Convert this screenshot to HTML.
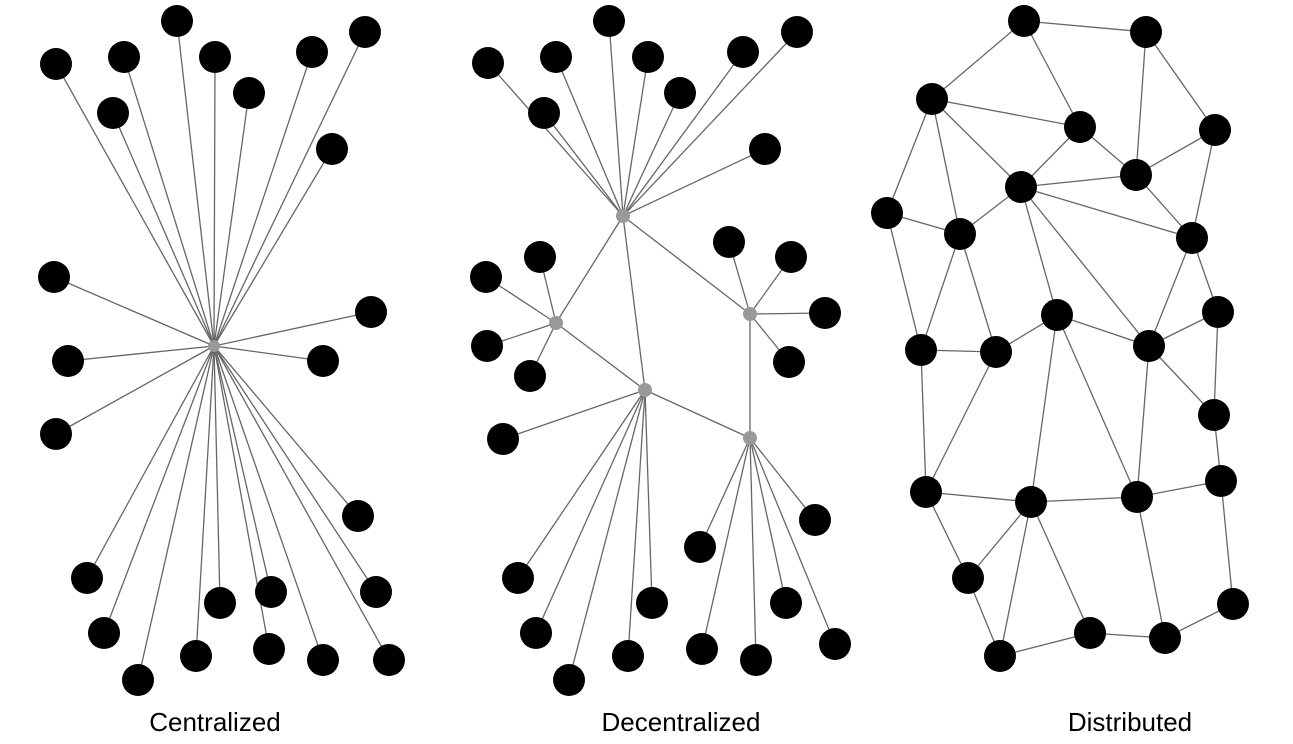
<!DOCTYPE html>
<html><head><meta charset="utf-8"><style>
html,body{margin:0;padding:0;background:#fff;}
svg{display:block;}
text{font-family:"Liberation Sans",Arial,sans-serif;font-size:26px;fill:#000;}
</style></head><body>
<svg width="1293" height="744" viewBox="0 0 1293 744" xmlns="http://www.w3.org/2000/svg">
<g id="g" stroke="#666" stroke-width="1.3"></g>
<g id="n"></g>
<text x="215" y="731" text-anchor="middle">Centralized</text>
<text x="681" y="731" text-anchor="middle">Decentralized</text>
<text x="1130" y="731" text-anchor="middle">Distributed</text>
</svg>
<script>
var NS="http://www.w3.org/2000/svg",G=document.getElementById('g'),N=document.getElementById('n');
function L(a,b){var l=document.createElementNS(NS,'line');l.setAttribute('x1',a[0]);l.setAttribute('y1',a[1]);l.setAttribute('x2',b[0]);l.setAttribute('y2',b[1]);G.appendChild(l);}
function C(p,r,f){var c=document.createElementNS(NS,'circle');c.setAttribute('cx',p[0]);c.setAttribute('cy',p[1]);c.setAttribute('r',r);c.setAttribute('fill',f);N.appendChild(c);}
// centralized
var h=[214,346];
var cn=[[56,64],[124,57],[177,21],[215,57],[312,52],[365,32],[113,113],[249,93],[332,149],[54,277],[371,312],[68,361],[323,361],[56,434],[358,516],[87,578],[376,592],[104,633],[220,603],[271,592],[138,680],[196,656],[269,649],[323,660],[389,660]];
cn.forEach(function(p){L(h,p);C(p,16,'#000');});C(h,6,'#999');
// decentralized
var A=[623,216],B=[556,323],Cc=[750,314],D=[645,390],E=[750,438];
var groups=[[A,[[488,63],[556,57],[609,21],[648,57],[743,52],[797,32],[544,113],[680,93],[765,149]]],
[B,[[540,257],[486,277],[487,346],[530,376]]],
[Cc,[[729,242],[791,257],[825,313],[789,362]]],
[D,[[503,439],[518,578],[536,633],[569,680],[628,656],[652,603]]],
[E,[[700,547],[702,649],[756,660],[786,603],[815,520],[835,644]]]];
L(A,B);L(A,D);L(A,Cc);L(B,D);L(Cc,E);L(D,E);
groups.forEach(function(g){g[1].forEach(function(p){L(g[0],p);C(p,16,'#000');});});
[A,B,Cc,D,E].forEach(function(p){C(p,7,'#999');});
// distributed
var P=[null,[1024,21],[1146,32],[932,99],[1080,127],[1215,130],[1136,175],[1021,187],[887,213],[960,234],[1192,238],[1057,315],[1218,312],[921,350],[996,352],[1149,346],[1214,415],[926,492],[1031,502],[1137,497],[1221,481],[968,578],[1233,604],[1000,656],[1090,633],[1165,638]];
var E2=[[1,2],[1,3],[1,4],[2,6],[2,5],[3,4],[3,8],[3,9],[3,7],[4,7],[4,6],[5,6],[5,10],[6,7],[6,10],[7,9],[7,10],[7,11],[7,15],[8,9],[8,13],[9,13],[9,14],[10,15],[10,12],[11,14],[11,15],[11,19],[11,18],[12,15],[12,16],[15,16],[15,19],[14,17],[13,14],[13,17],[16,20],[17,18],[17,21],[18,19],[19,20],[18,21],[18,23],[18,24],[19,25],[20,22],[21,23],[23,24],[24,25],[25,22]];
E2.forEach(function(e){L(P[e[0]],P[e[1]]);});
for(var i=1;i<P.length;i++)C(P[i],16,'#000');
</script>
</body></html>
